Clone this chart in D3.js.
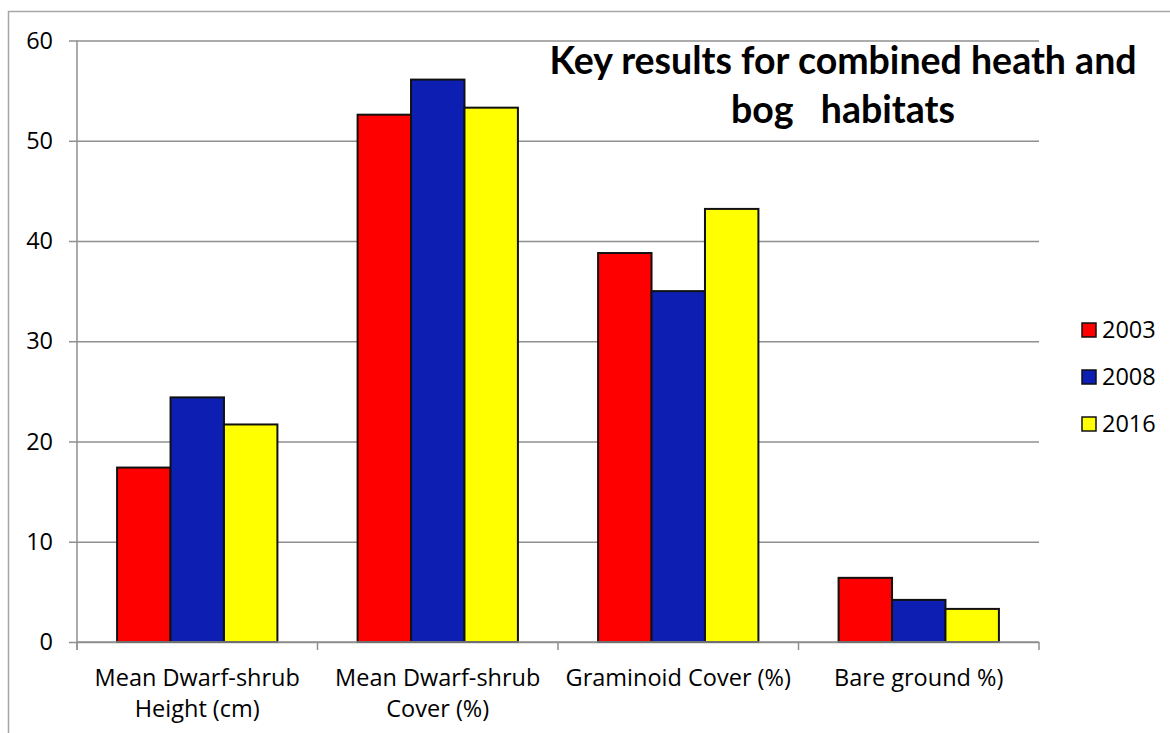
<!DOCTYPE html>
<html>
<head>
<meta charset="utf-8">
<script src="https://cdn.jsdelivr.net/npm/d3@7"></script>
<style>
  html, body { margin: 0; padding: 0; background: #fff; }
  svg { display: block; }
</style>
</head>
<body>
<svg id="chart" width="1170" height="733"></svg>
<script>
// Habitat survey measures, grouped by measure and coloured by survey year
const categories = [
  ["Mean Dwarf-shrub", "Height (cm)"],
  ["Mean Dwarf-shrub", "Cover (%)"],
  ["Graminoid Cover (%)"],
  ["Bare ground %)"]
];
const years = ["2003", "2008", "2016"];
const values2003 = [17.4, 52.6, 38.8, 6.4];
const values2008 = [24.4, 56.1, 35.0, 4.2];
const values2016 = [21.7, 53.3, 43.2, 3.3];
const yTicks = [0, 10, 20, 30, 40, 50, 60];
const titleLines = ["Key results for combined heath and", "bog   habitats"];

const seriesValues = [values2003, values2008, values2016];
const colors = ["#ff0000", "#0c1fb2", "#ffff00"];

const svg = d3.select("#chart");
const labelFont = "'Open Sans', 'Noto Sans', sans-serif";

// Outer chart frame (left and top edges visible)
svg.append("path")
  .attr("d", "M8.5,733 V11.5 H1170")
  .attr("fill", "none")
  .attr("stroke", "#a6a6a6")
  .attr("stroke-width", 1.5);

const plot = { left: 77, right: 1039, top: 40.5, bottom: 642 };
const catKeys = categories.map((c, i) => i);

const x0 = d3.scaleBand().domain(catKeys).range([plot.left, plot.right]).paddingInner(0).paddingOuter(0);
const x1 = d3.scaleBand().domain(years).range([0, x0.bandwidth()]).paddingInner(0).paddingOuter(0.75);
const y = d3.scaleLinear().domain([0, 60]).range([plot.bottom, plot.top]);

// Horizontal gridlines with outward tick marks
const yAxis = d3.axisLeft(y).tickValues(yTicks).tickSize(plot.right - plot.left + 8).tickFormat(d3.format("d")).tickPadding(16);
const gy = svg.append("g").attr("transform", `translate(${plot.right},0)`).call(yAxis);
gy.select(".domain").remove();
gy.selectAll(".tick line").attr("stroke", "#8f8f8f").attr("stroke-width", 1.5);
gy.selectAll(".tick text")
  .attr("font-family", labelFont)
  .attr("font-size", 23.5)
  .attr("fill", "#000");

// Vertical axis line
svg.append("line")
  .attr("x1", plot.left).attr("x2", plot.left)
  .attr("y1", plot.top).attr("y2", plot.bottom + 8)
  .attr("stroke", "#8f8f8f").attr("stroke-width", 1.5);

// Bars
const groups = svg.append("g").selectAll("g")
  .data(catKeys)
  .join("g")
  .attr("transform", d => `translate(${x0(d)},0)`);

groups.selectAll("rect")
  .data(ci => years.map((yr, si) => ({ yr, si, v: seriesValues[si][ci] })))
  .join("rect")
  .attr("x", d => x1(d.yr))
  .attr("width", x1.bandwidth())
  .attr("y", d => y(d.v))
  .attr("height", d => y(0) - y(d.v))
  .attr("fill", d => colors[d.si])
  .attr("stroke", "#111")
  .attr("stroke-width", 2);

// Category axis: baseline and boundary ticks
svg.append("line")
  .attr("x1", plot.left).attr("x2", plot.right)
  .attr("y1", plot.bottom).attr("y2", plot.bottom)
  .attr("stroke", "#8f8f8f").attr("stroke-width", 1.5);
const boundaries = catKeys.map(k => x0(k)).concat([plot.right]);
svg.append("g").selectAll("line")
  .data(boundaries)
  .join("line")
  .attr("x1", d => d).attr("x2", d => d)
  .attr("y1", plot.bottom).attr("y2", plot.bottom + 8)
  .attr("stroke", "#8f8f8f").attr("stroke-width", 1.5);

// Category labels
const catLabels = svg.append("g").selectAll("text")
  .data(catKeys)
  .join("text")
  .attr("x", d => x0(d) + x0.bandwidth() / 2)
  .attr("y", 686)
  .attr("text-anchor", "middle")
  .attr("font-family", labelFont)
  .attr("font-size", 23.5)
  .attr("fill", "#000");
catLabels.selectAll("tspan")
  .data(d => categories[d].map((t, i) => ({ t, i, d })))
  .join("tspan")
  .attr("x", d => x0(d.d) + x0.bandwidth() / 2)
  .attr("dy", d => d.i === 0 ? 0 : 31)
  .text(d => d.t);

// Title
svg.append("text")
  .attr("x", 843)
  .attr("text-anchor", "middle")
  .attr("font-family", "Lato, 'Open Sans', sans-serif")
  .attr("font-weight", "bold")
  .attr("font-size", 37.5)
  .attr("fill", "#000")
  .selectAll("tspan")
  .data(titleLines)
  .join("tspan")
  .attr("x", 843)
  .attr("y", (d, i) => 74 + i * 49)
  .attr("xml:space", "preserve")
  .style("white-space", "pre")
  .text(d => d);

// Legend
const legendOrder = [0, 1, 2];
const legend = svg.append("g").selectAll("g")
  .data(legendOrder)
  .join("g")
  .attr("transform", d => `translate(1082,${330 + d * 47})`);
legend.append("rect")
  .attr("x", 0).attr("y", -7)
  .attr("width", 14).attr("height", 14)
  .attr("fill", d => colors[d])
  .attr("stroke", "#111").attr("stroke-width", 1.5);
legend.append("text")
  .attr("x", 20).attr("y", 0)
  .attr("dy", "0.35em")
  .attr("font-family", labelFont)
  .attr("font-size", 23.5)
  .attr("fill", "#000")
  .text(d => years[d]);
</script>
</body>
</html>
